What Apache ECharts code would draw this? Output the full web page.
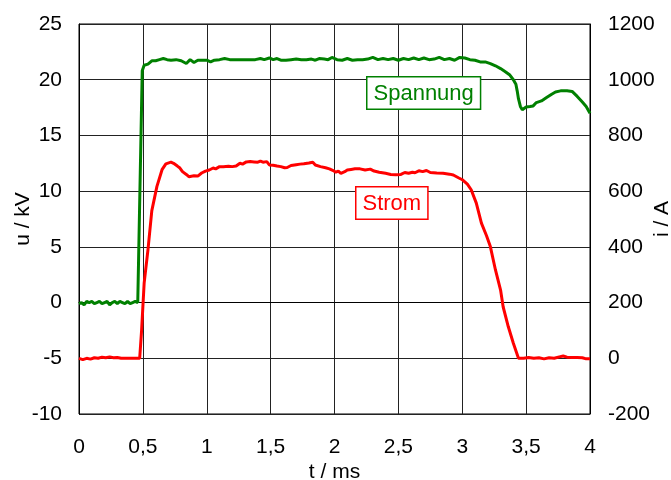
<!DOCTYPE html>
<html>
<head>
<meta charset="utf-8">
<script src="https://cdn.jsdelivr.net/npm/echarts@6/dist/echarts.min.js"></script>
<style>
  html, body { margin: 0; padding: 0; background: #fff; }
  #chart { width: 671px; height: 480px; }
</style>
</head>
<body>
<div id="chart"></div>
<script>
// Spannung u (kV), Zeit t (ms)
const voltageT = [0.00, 0.02, 0.04, 0.06, 0.08, 0.10, 0.12, 0.14, 0.16, 0.18, 0.20, 0.22, 0.24, 0.26, 0.28, 0.30, 0.32, 0.34, 0.36, 0.38, 0.40, 0.42, 0.44, 0.46, 0.472,
  0.495, 0.51, 0.54, 0.57, 0.60, 0.63, 0.66, 0.69, 0.72, 0.76, 0.80, 0.84, 0.87, 0.90, 0.93, 0.97, 1.00, 1.03, 1.06, 1.10, 1.14, 1.18, 1.22, 1.26, 1.30, 1.34, 1.38, 1.42, 1.45, 1.49,
  1.52, 1.55, 1.58, 1.62, 1.66, 1.70, 1.74, 1.78, 1.82, 1.85, 1.88, 1.92, 1.95, 1.98, 2.02, 2.06, 2.10, 2.14, 2.18, 2.22, 2.26, 2.30, 2.34, 2.38, 2.42, 2.46, 2.50,
  2.54, 2.58, 2.62, 2.66, 2.70, 2.74, 2.78, 2.82, 2.86, 2.90, 2.94, 2.98, 3.02, 3.06, 3.10, 3.14, 3.18, 3.22, 3.26, 3.30, 3.34, 3.37, 3.40, 3.42, 3.43, 3.44, 3.455,
  3.47, 3.50, 3.53, 3.555, 3.58, 3.62, 3.66, 3.70, 3.73, 3.77, 3.82, 3.86, 3.90, 3.94, 3.97, 4.00]
const voltage = [-0.1, 0.0, -0.2, 0.1, 0.0, 0.1, -0.1, 0.0, 0.1, -0.1, 0.0, 0.1, -0.2, 0.0, 0.1, -0.1, 0.1, 0.0, -0.1, 0.1, -0.1, 0.0, 0.1, 0.0, 0.1,
  20.8, 21.3, 21.4, 21.7, 21.7, 21.8, 21.9, 21.8, 21.75, 21.8, 21.7, 21.45, 21.8, 21.55, 21.75, 21.75, 21.75, 21.6, 21.75, 21.8, 21.9, 21.8, 21.8, 21.8, 21.8, 21.8, 21.8, 21.9, 21.8, 21.95,
  21.8, 21.9, 21.75, 21.75, 21.8, 21.85, 21.8, 21.8, 21.85, 21.75, 21.9, 21.85, 21.8, 22.0, 21.8, 21.75, 21.9, 21.75, 21.8, 21.8, 21.85, 22.0, 21.8, 21.9, 21.8, 21.9, 21.75,
  21.9, 21.8, 21.95, 21.8, 21.95, 21.8, 21.85, 22.0, 21.8, 21.9, 21.75, 22.0, 21.95, 21.8, 21.75, 21.6, 21.6, 21.45, 21.25, 21.0, 20.7, 20.45, 20.0, 19.6, 19.0, 18.3, 17.6,
  17.3, 17.55, 17.6, 17.65, 17.95, 18.1, 18.4, 18.7, 18.9, 19.0, 19.0, 18.95, 18.5, 18.0, 17.6, 17.0]

// Strom i (A)
const currentT = [0.00, 0.03, 0.06, 0.09, 0.12, 0.15, 0.18, 0.21, 0.24, 0.27, 0.30, 0.33, 0.36, 0.40, 0.44, 0.475,
  0.49, 0.51, 0.54, 0.57, 0.61, 0.65, 0.68, 0.72, 0.74, 0.77, 0.79, 0.81, 0.84, 0.86, 0.90, 0.93, 0.96, 0.99, 1.02, 1.05, 1.07, 1.10, 1.13, 1.17, 1.20, 1.23,
  1.26, 1.28, 1.31, 1.34, 1.37, 1.40, 1.42, 1.44, 1.47, 1.49, 1.52, 1.55, 1.58, 1.61, 1.63, 1.66, 1.70, 1.73, 1.76, 1.80, 1.83, 1.85, 1.89, 1.93, 1.96, 1.99,
  2.01, 2.03, 2.05, 2.08, 2.10, 2.13, 2.16, 2.20, 2.24, 2.28, 2.31, 2.35, 2.40, 2.44, 2.48, 2.52, 2.55, 2.58, 2.61, 2.63, 2.66, 2.69, 2.72, 2.75, 2.80, 2.85,
  2.90, 2.93, 2.97, 3.00, 3.04, 3.07, 3.11, 3.15, 3.19, 3.22, 3.26, 3.30, 3.32, 3.36, 3.40, 3.44, 3.48, 3.52, 3.56, 3.60, 3.64, 3.68, 3.72, 3.76, 3.79, 3.82,
  3.86, 3.90, 3.94, 3.97, 4.00]
const current = [0, -5, 0, -3, 2, 0, 4, 2, 5, 2, 3, 0, 0, 0, 0, 0,
  100, 270, 390, 530, 617, 677, 698, 704, 700, 690, 683, 670, 660, 652, 655, 654, 665, 672, 676, 683, 680, 688, 688, 689, 688, 690,
  700, 697, 705, 706, 705, 704, 708, 704, 706, 694, 693, 690, 688, 684, 685, 692, 695, 697, 698, 701, 704, 694, 688, 684, 680, 674,
  668, 672, 664, 670, 676, 678, 680, 680, 676, 679, 672, 668, 664, 660, 659, 660, 667, 664, 668, 666, 673, 670, 674, 667, 665, 664,
  661, 658, 648, 641, 625, 605, 557, 485, 440, 401, 317, 245, 185, 114, 54, 0, 0, 3, 0, 2, -2, 2, 0, 5, 8, 4,
  3, 3, 2, -2, -2]

const xTicks = { min: 0, max: 4, step: 0.5 }
const uTicks = { min: -10, max: 25, step: 5 }
const iTicks = { min: -200, max: 1200, step: 200 }

const FONT = 'Liberation Sans, Arial, sans-serif'
const chart = echarts.init(document.getElementById('chart'))

const axisCommon = {
  axisLine: { show: true, lineStyle: { color: '#000', width: 1 } },
  axisTick: { show: false },
  axisLabel: { color: '#000', fontSize: 21, fontFamily: FONT },
  nameTextStyle: { color: '#000', fontSize: 21, fontFamily: FONT },
  nameMoveOverlap: false
}

chart.setOption({
  animation: false,
  grid: {
    left: 79, right: 81, top: 24, bottom: 66,
    containLabel: false, outerBoundsMode: 'none',
    show: true, borderColor: '#000', borderWidth: 1
  },
  xAxis: {
    ...axisCommon,
    type: 'value',
    min: xTicks.min, max: xTicks.max, interval: xTicks.step,
    name: 't / ms', nameLocation: 'middle', nameGap: 48,
    axisLabel: { ...axisCommon.axisLabel, margin: 23, formatter: v => String(v).replace('.', ',') },
    splitLine: { show: true, lineStyle: { color: '#222', width: 1 } }
  },
  yAxis: [
    {
      ...axisCommon,
      type: 'value',
      min: uTicks.min, max: uTicks.max, interval: uTicks.step,
      name: 'u / kV', nameLocation: 'middle', nameRotate: 90, nameGap: 45,
      axisLabel: { ...axisCommon.axisLabel, margin: 17, formatter: v => String(v) },
      splitLine: { show: true, lineStyle: { color: '#222', width: 1 } }
    },
    {
      ...axisCommon,
      type: 'value',
      position: 'right',
      min: iTicks.min, max: iTicks.max, interval: iTicks.step,
      name: 'i / A', nameLocation: 'middle', nameRotate: 90, nameGap: 62,
      axisLabel: { ...axisCommon.axisLabel, margin: 18, formatter: v => String(v) },
      splitLine: { show: false }
    }
  ],
  series: [
    {
      name: 'Spannung',
      type: 'line',
      yAxisIndex: 0,
      showSymbol: false,
      data: voltageT.map((t, k) => [t, voltage[k]]),
      lineStyle: { color: '#008000', width: 3 },
      itemStyle: { color: '#008000' }
    },
    {
      name: 'Strom',
      type: 'line',
      yAxisIndex: 1,
      showSymbol: false,
      data: currentT.map((t, k) => [t, current[k]]),
      lineStyle: { color: '#ff0000', width: 3 },
      itemStyle: { color: '#ff0000' }
    }
  ],
  graphic: [
    {
      type: 'text', left: 366, top: 76, z: 100,
      style: {
        text: 'Spannung', fill: '#008000', font: '22px ' + FONT,
        backgroundColor: '#fff', borderColor: '#008000', borderWidth: 1.5,
        padding: [5, 6, 4, 6]
      }
    },
    {
      type: 'text', left: 355, top: 186, z: 100,
      style: {
        text: 'Strom', fill: '#ff0000', font: '22px ' + FONT,
        backgroundColor: '#fff', borderColor: '#ff0000', borderWidth: 1.5,
        padding: [5, 6, 4, 6]
      }
    }
  ]
})
</script>
</body>
</html>
